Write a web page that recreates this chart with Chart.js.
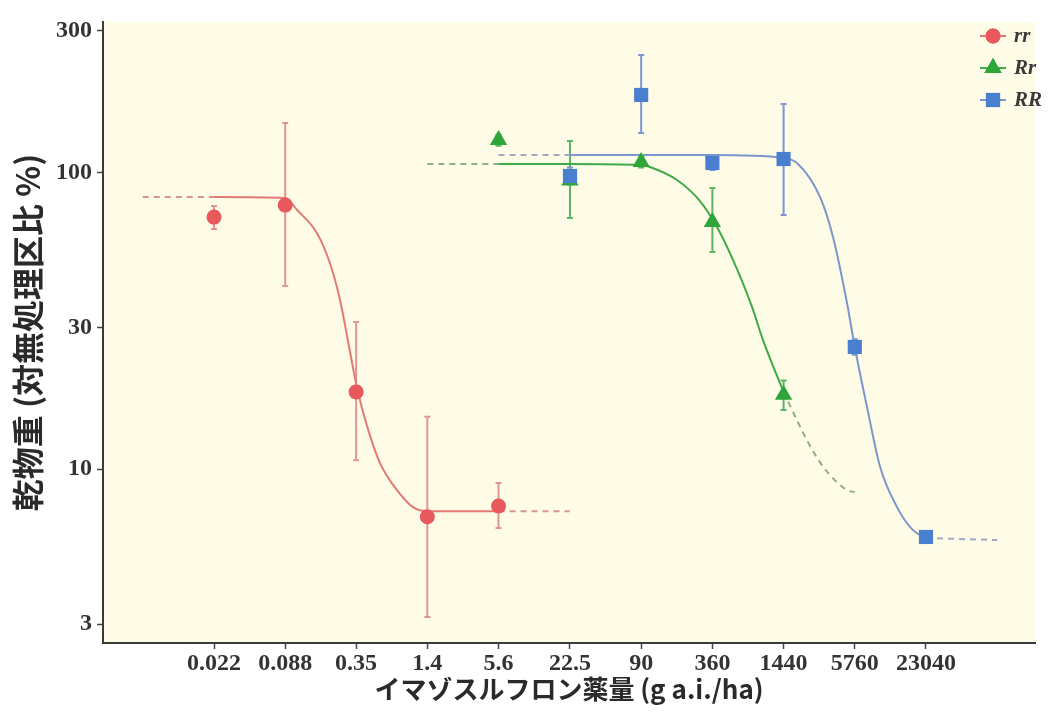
<!DOCTYPE html>
<html>
<head>
<meta charset="utf-8">
<script src="https://cdn.jsdelivr.net/npm/chart.js@4"></script>
<style>
  html, body { margin: 0; padding: 0; background: #ffffff; }
  #wrap { width: 1055px; height: 713px; position: relative; }
</style>
</head>
<body>
<div id="wrap"><canvas id="c"></canvas></div>
<script>
// ---- axis ticks ----
const xTicks = [0.022, 0.088, 0.35, 1.4, 5.6, 22.5, 90, 360, 1440, 5760, 23040];
const xTickLabels = ['0.022', '0.088', '0.35', '1.4', '5.6', '22.5', '90', '360', '1440', '5760', '23040'];
const yTicks = [3, 10, 30, 100, 300];
const yTickLabels = ['3', '10', '30', '100', '300'];

// ---- series names ----
const seriesNames = ['rr', 'Rr', 'RR'];

// ---- observed means and error bars ----
const rrDose = [0.022, 0.088, 0.35, 1.4, 5.6];
const rrMean = [70.7, 77.6, 18.2, 6.9, 7.5];
const rrLow  = [64.5, 41.4, 10.7, 3.17, 6.32];
const rrHigh = [77.1, 146.9, 31.3, 15.0, 8.97];

const RrDose = [5.6, 22.5, 90, 360, 1440];
const RrMean = [128.7, 94, 108.5, 68, 17.8];
const RrLow  = [123, 70.2, 104, 53.9, 15.8];
const RrHigh = [134, 127.7, 113, 88.6, 19.9];

const RRDose = [22.5, 90, 360, 1440, 5760, 23040];
const RRMean = [97.3, 182.5, 107.6, 111, 25.8, 5.9];
const RRLow  = [91, 135.9, 102, 71.9, 24.3, 5.7];
const RRHigh = [104, 249, 113, 170, 27.4, 6.1];

// ---- fitted curves ----
const rrFitDose = [0.022, 0.088, 0.111, 0.163, 0.21, 0.256, 0.311, 0.356, 0.433, 0.557, 0.776, 1.06, 1.4, 5.6];
const rrFitVal  = [82.6, 82.0, 74.7, 62.5, 49.5, 37.1, 24.8, 18.75, 13.96, 10.47, 8.49, 7.44, 7.21, 7.2];
const rrExtLowDose = [0.0055, 0.022];
const rrExtLowVal  = [82.6, 82.6];
const rrExtHighDose = [5.6, 22.4];
const rrExtHighVal  = [7.2, 7.2];

const RrFitDose = [5.6, 22.5, 90, 106.9, 180.8, 282.9, 393.9, 537.8, 778.7, 964.8, 1440];
const RrFitVal  = [106.8, 106.8, 106, 104.3, 94.3, 80.1, 65.5, 50.7, 35.2, 27.2, 18.2];
const RrExtLowDose = [1.4, 5.6];
const RrExtLowVal  = [106.8, 106.8];
const RrExtHighDose = [1440, 2272, 3101, 4950, 5760];
const RrExtHighVal  = [18.2, 12.5, 10.2, 8.49, 8.36];

const RRFitDose = [22.5, 90, 360, 1440, 1870, 2926, 3769, 4950, 5760, 7306, 9411, 13100, 17890, 23040];
const RRFitVal  = [114.5, 114.5, 114.5, 112, 107.6, 82.7, 60.6, 36.3, 25.8, 16.2, 10.2, 7.44, 6.22, 5.85];
const RRExtLowDose = [5.6, 22.5];
const RRExtLowVal  = [114.5, 114.5];
const RRExtHighDose = [23040, 92160];
const RRExtHighVal  = [5.85, 5.76];

// ---- styling ----
const colMarker = { rr: '#E8585C', Rr: '#2EA63A', RR: '#4A7FD0' };
const colLine   = { rr: '#E27A74', Rr: '#3FAA47', RR: '#7E96CE' };
const colErr    = { rr: '#E39590', Rr: '#5DB463', RR: '#7C97D2' };
const colDash   = { rr: '#D8958E', Rr: '#8FAE8A', RR: '#A2A8BE' };
const shape     = { rr: 'circle', Rr: 'triangle', RR: 'rect' };
const radius    = { rr: 7.5, Rr: 10, RR: 10 };

const pts = (xs, ys) => xs.map((x, i) => ({ x: x, y: ys[i] }));

function pointDs(name, xs, ys, order) {
  return {
    label: name, data: pts(xs, ys), showLine: false,
    pointStyle: shape[name], pointRadius: radius[name], pointHoverRadius: radius[name],
    backgroundColor: colMarker[name], borderColor: colMarker[name], borderWidth: 0,
    order: order
  };
}
function lineDs(name, xs, ys, dashed) {
  return {
    label: name + (dashed ? '-ext' : '-fit'), data: pts(xs, ys), showLine: true,
    pointRadius: 0, pointHoverRadius: 0, borderWidth: 2,
    borderColor: dashed ? colDash[name] : colLine[name],
    borderDash: dashed ? [6, 5] : [],
    cubicInterpolationMode: 'monotone', fill: false, order: 10
  };
}

const errSets = [
  { name: 'rr', x: rrDose, lo: rrLow, hi: rrHigh },
  { name: 'Rr', x: RrDose, lo: RrLow, hi: RrHigh },
  { name: 'RR', x: RRDose, lo: RRLow, hi: RRHigh }
];

const panelPlugin = {
  id: 'panel',
  beforeDraw(chart) {
    const a = chart.chartArea, ctx = chart.ctx;
    ctx.save();
    ctx.fillStyle = '#FEFBE7';
    ctx.fillRect(a.left, a.top, a.right - a.left, a.bottom - a.top);
    ctx.restore();
  }
};

const errPlugin = {
  id: 'errbars',
  beforeDatasetsDraw(chart) {
    const ctx = chart.ctx, xs = chart.scales.x, ys = chart.scales.y;
    ctx.save();
    ctx.lineWidth = 2;
    errSets.forEach(s => {
      ctx.strokeStyle = colErr[s.name];
      s.x.forEach((d, i) => {
        const px = xs.getPixelForValue(d);
        const y1 = ys.getPixelForValue(s.lo[i]);
        const y2 = ys.getPixelForValue(s.hi[i]);
        ctx.beginPath();
        ctx.moveTo(px, y1); ctx.lineTo(px, y2);
        ctx.moveTo(px - 3, y1); ctx.lineTo(px + 3, y1);
        ctx.moveTo(px - 3, y2); ctx.lineTo(px + 3, y2);
        ctx.stroke();
      });
    });
    ctx.restore();
  }
};

const legendPlugin = {
  id: 'customLegend',
  afterDraw(chart) {
    const ctx = chart.ctx;
    const x0 = 993, y0 = 36, step = 32;
    ctx.save();
    seriesNames.forEach((name, i) => {
      const y = y0 + i * step;
      ctx.strokeStyle = colLine[name];
      ctx.lineWidth = 2;
      ctx.beginPath(); ctx.moveTo(x0 - 13, y); ctx.lineTo(x0 + 13, y); ctx.stroke();
      ctx.fillStyle = colMarker[name];
      Chart.helpers.drawPoint(ctx, { pointStyle: shape[name], radius: radius[name], borderWidth: 0 }, x0, y);
      ctx.fill();
      ctx.fillStyle = '#3a3a3a';
      ctx.font = 'italic bold 21px "Liberation Serif"';
      ctx.textAlign = 'left';
      ctx.textBaseline = 'middle';
      ctx.fillText(name, x0 + 21, y + 1);
    });
    ctx.restore();
  }
};

const tickFont = { family: '"Liberation Serif", serif', size: 24, weight: 'bold' };

new Chart(document.getElementById('c'), {
  type: 'scatter',
  data: {
    datasets: [
      pointDs('RR', RRDose, RRMean, 0),
      pointDs('Rr', RrDose, RrMean, 1),
      pointDs('rr', rrDose, rrMean, 2),
      lineDs('rr', rrFitDose, rrFitVal, false),
      lineDs('rr', rrExtLowDose, rrExtLowVal, true),
      lineDs('rr', rrExtHighDose, rrExtHighVal, true),
      lineDs('Rr', RrFitDose, RrFitVal, false),
      lineDs('Rr', RrExtLowDose, RrExtLowVal, true),
      lineDs('Rr', RrExtHighDose, RrExtHighVal, true),
      lineDs('RR', RRFitDose, RRFitVal, false),
      lineDs('RR', RRExtLowDose, RRExtLowVal, true),
      lineDs('RR', RRExtHighDose, RRExtHighVal, true)
    ]
  },
  options: {
    responsive: true,
    maintainAspectRatio: false,
    animation: false,
    events: [],
    layout: { padding: { top: 22, right: 20, left: 0, bottom: 0 } },
    plugins: { legend: { display: false }, tooltip: { enabled: false } },
    scales: {
      x: {
        type: 'logarithmic',
        bounds: 'data',
        min: 0.002534,
        max: 192400,
        afterBuildTicks: s => { s.ticks = xTicks.map(v => ({ value: v })); },
        afterFit: s => { s.height = 70; },
        ticks: {
          autoSkip: false, maxRotation: 0, minRotation: 0,
          padding: 0, color: '#333', font: tickFont,
          callback: (v, i) => xTickLabels[i]
        },
        grid: { drawOnChartArea: false, drawTicks: true, tickLength: 6, color: '#444', tickWidth: 1.5 },
        border: { display: true, color: '#3a3a3a', width: 2 },
        title: {
          display: true,
          text: 'イマゾスルフロン薬量 (g a.i./ha)',
          color: '#2a2a2a',
          font: { family: '"Noto Sans CJK JP", sans-serif', size: 26, weight: 'bold' },
          padding: { top: 0, bottom: 8 }
        }
      },
      y: {
        type: 'logarithmic',
        bounds: 'data',
        min: 2.59,
        max: 321.6,
        afterBuildTicks: s => { s.ticks = yTicks.map(v => ({ value: v })); },
        afterFit: s => { s.width = 103; },
        ticks: {
          autoSkip: false, padding: 5, color: '#333', font: tickFont,
          callback: (v, i) => yTickLabels[i]
        },
        grid: { drawOnChartArea: false, drawTicks: true, tickLength: 6, color: '#444', tickWidth: 1.5 },
        border: { display: true, color: '#3a3a3a', width: 2 },
        title: {
          display: true,
          text: '乾物重 (対無処理区比 %)',
          color: '#2a2a2a',
          font: { family: '"Noto Sans CJK JP", sans-serif', size: 32, weight: 'bold' },
          padding: { top: 9, bottom: 0 }
        }
      }
    }
  },
  plugins: [panelPlugin, errPlugin, legendPlugin]
});
</script>
</body>
</html>
